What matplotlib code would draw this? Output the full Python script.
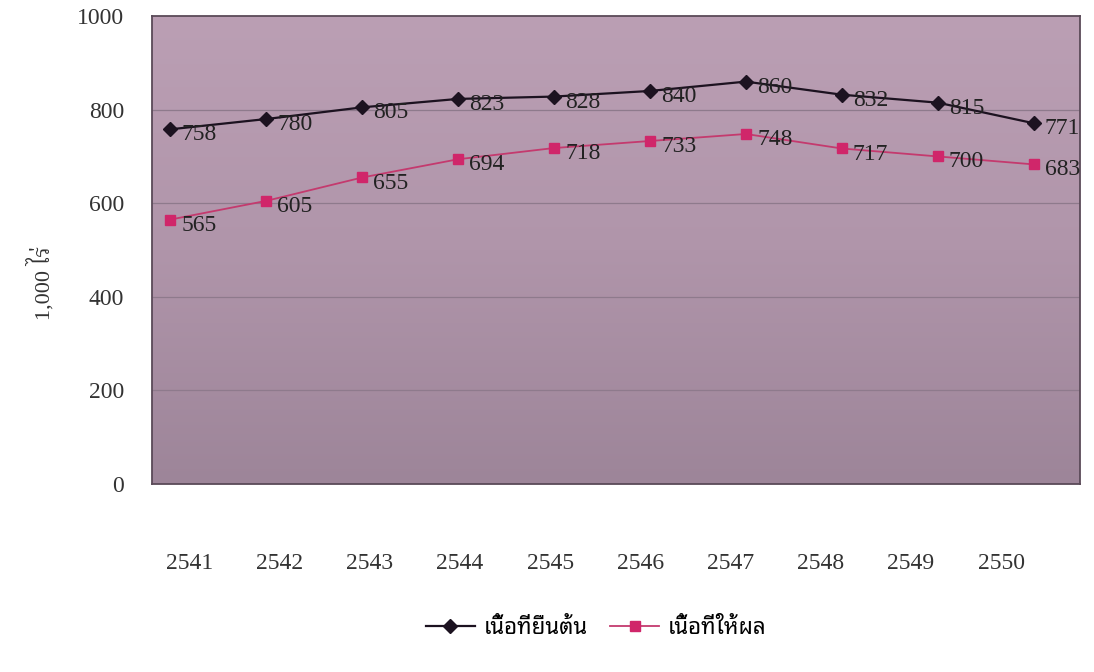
import numpy as np
import matplotlib
matplotlib.use("Agg")
import matplotlib.pyplot as plt
from matplotlib.colors import LinearSegmentedColormap

plt.rcParams['font.family'] = ['Liberation Serif', 'Noto Serif Thai', 'DejaVu Sans']

years = ["2541", "2542", "2543", "2544", "2545", "2546", "2547", "2548", "2549", "2550"]
planted = [758, 780, 805, 823, 828, 840, 860, 832, 815, 771]   # เนื้อที่ยืนต้น
bearing = [565, 605, 655, 694, 718, 733, 748, 717, 700, 683]   # เนื้อที่ให้ผล

fig = plt.figure(figsize=(10.94, 6.72), dpi=100)
ax = fig.add_axes([0.139, 0.28, 0.848, 0.696])

x = np.arange(len(years))
ax.set_xlim(-0.19, 9.48)
ax.set_ylim(0, 1000)

# mauve gradient background, darker towards the bottom
cmap = LinearSegmentedColormap.from_list("bg", ["#9d8599", "#b095aa", "#bb9fb4"])
grad = np.linspace(0, 1, 256).reshape(-1, 1)
ax.imshow(grad, aspect='auto', cmap=cmap, origin='lower',
          extent=[-0.19, 9.48, 0, 1000], zorder=0)

for gy in [200, 400, 600, 800]:
    ax.axhline(gy, color='#8e7a8c', lw=0.9, zorder=1)

ax.plot(x, planted, color='#1c1220', lw=1.6, marker='D', ms=7, zorder=3,
        label='เนื้อที่ยืนต้น')
ax.plot(x, bearing, color='#c43a6e', lw=1.3, marker='s', ms=7,
        markerfacecolor='#d0266a', markeredgecolor='#d0266a', zorder=3,
        label='เนื้อที่ให้ผล')

for xi, v in zip(x, planted):
    ax.annotate(str(v), (xi, v), xytext=(8, -4), textcoords='offset points',
                ha='left', va='center', fontsize=17, color='#222222', zorder=4,
                annotation_clip=False)
for xi, v in zip(x, bearing):
    ax.annotate(str(v), (xi, v), xytext=(8, -4), textcoords='offset points',
                ha='left', va='center', fontsize=17, color='#222222', zorder=4,
                annotation_clip=False)

# the year labels in the original sit on a slightly narrower grid than the points
ax.set_xticks(x * 0.94 + 0.2)
ax.set_xticklabels(years)
ax.set_yticks([0, 200, 400, 600, 800, 1000])
ax.tick_params(axis='x', length=0, pad=50, labelsize=17, labelcolor='#333333')
ax.tick_params(axis='y', length=0, pad=20, labelsize=17, labelcolor='#333333')

for s in ['left', 'bottom', 'right', 'top']:
    ax.spines[s].set_color('#5a4a58')
    ax.spines[s].set_linewidth(1.3)

ax.set_ylabel('1,000 ไร่', fontsize=16, color='#333333')
ax.yaxis.set_label_coords(-0.105, 0.43)

fig.legend(loc='center', bbox_to_anchor=(0.545, 0.065), ncol=2, frameon=False,
           prop={'family': ['Noto Sans Thai Looped', 'DejaVu Sans'], 'size': 16},
           handlelength=2.2, columnspacing=1.0, handletextpad=0.4)

fig.savefig("out.png", dpi=100)
